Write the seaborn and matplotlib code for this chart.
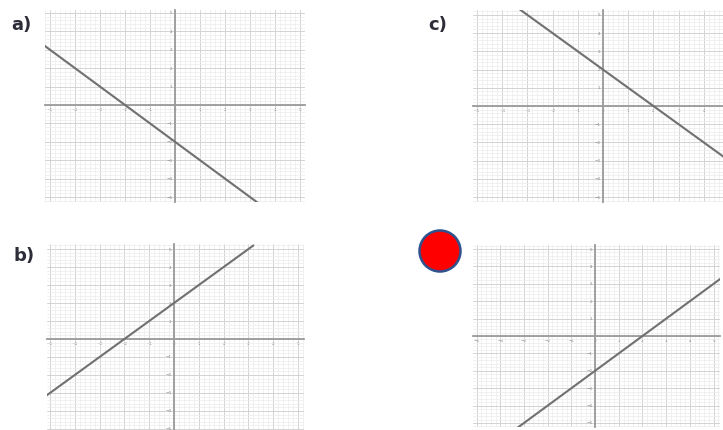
import matplotlib
matplotlib.use("Agg")
import matplotlib.pyplot as plt
from matplotlib.patches import Circle
from matplotlib.ticker import MultipleLocator
import seaborn as sns
import pandas as pd

sns.set_style("white")
plt.rcParams['font.family'] = ['DejaVu Sans']

# lines (two points each, clipped by the axes)
a_x = [-5.2, 3.3]
a_y = [3.2, -5.3]
b_x = [-5.2, 3.2]
b_y = [-3.2, 5.2]
c_x = [-3.3, 5.3]
c_y = [5.3, -3.3]
d_x = [-3.3, 5.3]
d_y = [-5.3, 3.3]
tick_vals = [-5, -4, -3, -2, -1, 0, 1, 2, 3, 4, 5]
c_xticks = [-5, -4, -3, -2, -1, 0, 1, 2, 3, 4]  # 5 is cut off in panel c

W, H = 723, 430
fig = plt.figure(figsize=(W / 100, H / 100), dpi=100)


def px_axes(left, right, top, bottom):
    return fig.add_axes([left / W, 1 - bottom / H, (right - left) / W, (bottom - top) / H])


def fmt(v):
    return str(v).replace('-', '\u2212')


def panel(ax, xs, ys, xlim, ylim, xt=tick_vals):
    df = pd.DataFrame({'x': xs, 'y': ys})
    sns.lineplot(data=df, x='x', y='y', ax=ax, color='#707070', linewidth=1.5)
    ax.set_xlim(*xlim)
    ax.set_ylim(*ylim)
    ax.xaxis.set_minor_locator(MultipleLocator(0.2))
    ax.yaxis.set_minor_locator(MultipleLocator(0.2))
    ax.set_xticks(tick_vals)
    ax.set_xticklabels([fmt(v) if v in xt else '' for v in tick_vals])
    ax.set_yticks(tick_vals)
    ax.set_yticklabels([fmt(v) if v != 0 else '' for v in tick_vals])
    ax.grid(which='major', color='#d3d3d3', linewidth=0.7)
    ax.grid(which='minor', color='#ececec', linewidth=0.5)
    ax.set_axisbelow(True)
    for s in ['top', 'right']:
        ax.spines[s].set_visible(False)
    ax.spines['left'].set_position('zero')
    ax.spines['bottom'].set_position('zero')
    for s in ['left', 'bottom']:
        ax.spines[s].set_color('#9a9a9a')
        ax.spines[s].set_linewidth(1.3)
        ax.spines[s].set_zorder(1)
    ax.tick_params(which='both', length=0, labelsize=3, colors='#888888', pad=2)
    ax.set_xlabel('')
    ax.set_ylabel('')
    ax.patch.set_alpha(0)


panel(px_axes(45, 305, 10, 202), a_x, a_y, (-5.2, 5.2), (-5.27, 5.16))
panel(px_axes(473, 734, 10, 202), c_x, c_y, (-5.16, 5.2), (-5.27, 5.27), xt=c_xticks)
panel(px_axes(47, 304, 244, 434), b_x, b_y, (-5.12, 5.24), (-5.28, 5.28))
panel(px_axes(473, 720, 245, 427), d_x, d_y, (-5.15, 5.27), (-5.23, 5.23))

# overlay for labels and the red dot
ov = fig.add_axes([0, 0, 1, 1])
ov.set_xlim(0, W)
ov.set_ylim(H, 0)
ov.axis('off')
ov.patch.set_alpha(0)
lab_style = dict(fontsize=13, fontweight='bold', color='#2d2d3a', ha='center', va='center')
ov.text(21, 25, 'a)', **lab_style)
ov.text(438, 25, 'c)', **lab_style)
ov.text(24, 256, 'b)', **lab_style)
ov.add_patch(Circle((440, 251), 20.5, facecolor='#ff0000', edgecolor='#2f528f', linewidth=1.8))

fig.savefig('out.png', dpi=100)
